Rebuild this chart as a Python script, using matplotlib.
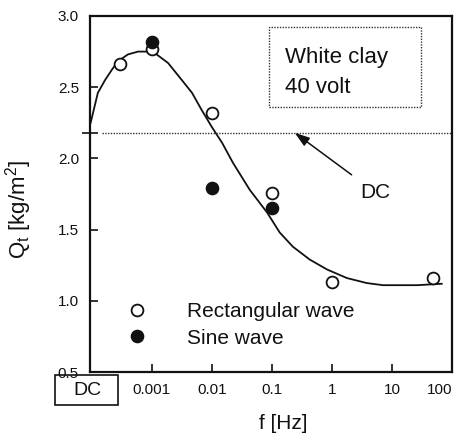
import matplotlib
matplotlib.use('Agg')
import matplotlib.pyplot as plt
from matplotlib.patches import Rectangle
import numpy as np

plt.rcParams['font.family'] = ['Liberation Sans', 'DejaVu Sans']
plt.rcParams['mathtext.fontset'] = 'custom'
plt.rcParams['mathtext.rm'] = 'Liberation Sans'
plt.rcParams['mathtext.it'] = 'Liberation Sans:italic'

# measured points
rect_f = [0.0003, 0.001, 0.01, 0.1, 1, 48]
rect_q = [2.66, 2.77, 2.32, 1.76, 1.13, 1.16]
sine_f = [0.001, 0.01, 0.1]
sine_q = [2.82, 1.79, 1.65]

# fitted curve (log10 f, Qt)
curve_logf = [-4.02, -3.90, -3.78, -3.67, -3.57, -3.40, -3.23, -3.07, -2.92,
              -2.73, -2.50, -2.33, -2.17, -2.00, -1.83, -1.65, -1.37, -1.08,
              -0.87, -0.65, -0.37, -0.08, 0.25, 0.58, 0.85, 1.13, 1.42, 1.83]
curve_q = [2.25, 2.46, 2.55, 2.62, 2.68, 2.73, 2.75, 2.75, 2.73,
           2.67, 2.55, 2.46, 2.34, 2.22, 2.11, 1.97, 1.78, 1.62,
           1.48, 1.38, 1.29, 1.22, 1.16, 1.125, 1.11, 1.11, 1.11, 1.12]

dc_level = 2.18
x_ticks = [0.001, 0.01, 0.1, 1, 10, 100]
x_labels = ['0.001', '0.01', '0.1', '1', '10', '100']
y_ticks = [0.5, 1.0, 1.5, 2.0, 2.5, 3.0]

ink = '#111111'

fig = plt.figure(figsize=(4.57, 4.44), dpi=100)
ax = fig.add_axes([0.197, 0.162, 0.792, 0.802])

ax.plot(10 ** np.array(curve_logf), curve_q, color=ink, lw=1.3)
ax.axhline(dc_level, xmin=0.033, xmax=1, color='#333333', lw=1,
           linestyle=(0, (1, 1)))
ax.plot(rect_f, rect_q, 'o', ms=8.5, mfc='white', mec=ink, mew=1.3,
        linestyle='none', label='Rectangular wave', zorder=3)
ax.plot(sine_f, sine_q, 'o', ms=8.5, mfc=ink, mec=ink, mew=1.3,
        linestyle='none', label='Sine wave', zorder=4)

ax.set_xscale('log')
ax.set_xlim(10 ** -4.03, 100)
ax.set_ylim(0.5, 3.0)
ax.set_xticks(x_ticks)
ax.set_xticklabels(x_labels)
ax.xaxis.set_minor_locator(matplotlib.ticker.NullLocator())
ax.set_yticks(y_ticks)
ax.set_yticklabels([f'{v:.1f}' for v in y_ticks])
ax.set_yticks([dc_level], minor=True)
ax.tick_params(which='major', direction='in', length=6, width=1.2,
               labelsize=11, colors=ink, pad=8)
ax.tick_params(axis='y', which='minor', direction='inout', length=11,
               width=1.2, color=ink)
# last label sits on the right edge of the figure
ax.get_xticklabels()[-1].set_ha('right')
for s in ax.spines.values():
    s.set_linewidth(1.6)
    s.set_color(ink)

ax.set_xlabel('f [Hz]', fontsize=15, color=ink)
ax.xaxis.set_label_coords(0.533, -0.118)
ax.set_ylabel(r'Q$_\mathrm{t}$ [kg/m$^\mathrm{2}$]', fontsize=16, color=ink)
ax.yaxis.set_label_coords(-0.155, 0.458)

# info box
ax.add_patch(Rectangle((0.494, 0.744), 0.42, 0.225, transform=ax.transAxes,
                       fill=False, ec='#333333', lw=1, linestyle=(0, (1, 1))))
ax.text(0.539, 0.868, 'White clay', transform=ax.transAxes, fontsize=16,
        va='baseline', color=ink)
ax.text(0.539, 0.784, '40 volt', transform=ax.transAxes, fontsize=16,
        va='baseline', color=ink)

ax.annotate('DC', xy=(0.24, dc_level), xytext=(5.2, 1.764), fontsize=15,
            ha='center', va='center', color=ink,
            arrowprops=dict(arrowstyle='-|>,head_length=0.6,head_width=0.2',
                            color=ink, lw=1.1, shrinkA=6, shrinkB=0))

ax.legend(loc='center left', bbox_to_anchor=(0.101, 0.132), frameon=False,
          fontsize=15, handlelength=1.0, handletextpad=1.9, borderpad=0,
          borderaxespad=0, labelspacing=0.35, labelcolor=ink)

# DC box under the axis
fig.add_artist(Rectangle((55 / 457, (444 - 405) / 444), 63 / 457, 30 / 444,
                         transform=fig.transFigure, fill=False, ec=ink, lw=1.2))
fig.text(87 / 457, (444 - 390) / 444, 'DC', ha='center', va='center',
         fontsize=14, color=ink)

fig.savefig('out.png', dpi=100)
